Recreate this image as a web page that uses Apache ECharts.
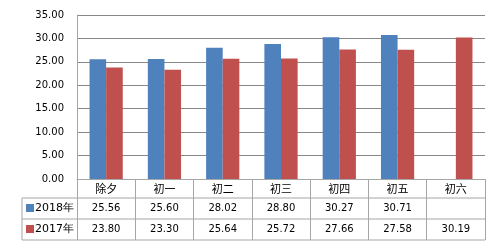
<!DOCTYPE html>
<html><head><meta charset="utf-8">
<script src="https://cdn.jsdelivr.net/npm/echarts@6/dist/echarts.min.js"></script>
<style>html,body{margin:0;padding:0;background:#fff}#c{width:500px;height:248px}</style>
</head><body><div id="c"></div>
<script>
var categories = ['除夕','初一','初二','初三','初四','初五','初六'];
var seriesNames = ['2018年','2017年'];
var values2018 = [25.56, 25.60, 28.02, 28.80, 30.27, 30.71, null];
var values2017 = [23.80, 23.30, 25.64, 25.72, 27.66, 27.58, 30.19];
var yTicks = [0, 5, 10, 15, 20, 25, 30, 35];

var G = {left: 77, right: 15, top: 15, bottom: 69};
var W = 500, H = 248;
var rowH = [19, 21, 21];
var tableLeft = 22;
var lineColor = '#A6A6A6';
var fontNum = 'DejaVu Sans, Verdana, sans-serif';

function fmt(v){ return (v === null || v === undefined) ? '' : v.toFixed(2); }

var chart = echarts.init(document.getElementById('c'), null, {renderer:'canvas'});
var baseY = H - G.bottom;
var x0 = G.left, x1 = W - G.right;
var y1 = baseY + rowH[0], y2 = y1 + rowH[1], y3 = y2 + rowH[2];

chart.setOption({
  animation: false,
  grid: {left: G.left, right: G.right, top: G.top, bottom: G.bottom, containLabel: false},
  legend: {
    orient: 'vertical', left: tableLeft + 4, top: y1 + 3, padding: 0,
    itemWidth: 8, itemHeight: 8, itemGap: 7, icon: 'rect',
    selectedMode: false,
    textStyle: {fontFamily: fontNum, fontSize: 11, color: '#000', lineHeight: 14, padding: [0,0,0,-4]},
    data: seriesNames
  },
  xAxis: {
    type: 'category', data: categories,
    axisLine: {lineStyle: {color: lineColor}},
    axisTick: {show: true, length: rowH[0] + rowH[1] + rowH[2], lineStyle: {color: lineColor}},
    axisLabel: {
      interval: 0, margin: 0,
      formatter: function(v, i){
        return '{c|' + v + '}\n{v|' + fmt(values2018[i]) + '}\n{v|' + fmt(values2017[i]) + '}';
      },
      rich: {
        c: {fontFamily: 'Noto Sans CJK SC', fontSize: 11, lineHeight: rowH[0], color: '#000'},
        v: {fontFamily: fontNum, fontSize: 10, lineHeight: rowH[1], color: '#000'}
      }
    }
  },
  yAxis: {
    type: 'value', min: yTicks[0], max: yTicks[yTicks.length-1], interval: yTicks[1]-yTicks[0],
    axisLine: {show: true, lineStyle: {color: lineColor}},
    axisTick: {show: false},
    splitLine: {lineStyle: {color: '#888888'}},
    axisLabel: {fontFamily: fontNum, fontSize: 10, color: '#000', margin: 13, formatter: function(v){return v.toFixed(2);}}
  },
  series: [
    {name: seriesNames[0], type: 'bar', data: values2018, barGap: '0%', barCategoryGap: '43%', itemStyle: {color: '#4F81BD'}},
    {name: seriesNames[1], type: 'bar', data: values2017, barGap: '0%', barCategoryGap: '43%', itemStyle: {color: '#C0504D'}}
  ],
  graphic: [
    {type: 'line', shape: {x1: tableLeft, y1: y1, x2: x1, y2: y1}, style: {stroke: lineColor, lineWidth: 1}},
    {type: 'line', shape: {x1: tableLeft, y1: y2, x2: x1, y2: y2}, style: {stroke: lineColor, lineWidth: 1}},
    {type: 'line', shape: {x1: tableLeft, y1: y3, x2: x1, y2: y3}, style: {stroke: lineColor, lineWidth: 1}},
    {type: 'line', shape: {x1: tableLeft, y1: y1, x2: tableLeft, y2: y3}, style: {stroke: lineColor, lineWidth: 1}}
  ]
});
</script></body></html>
